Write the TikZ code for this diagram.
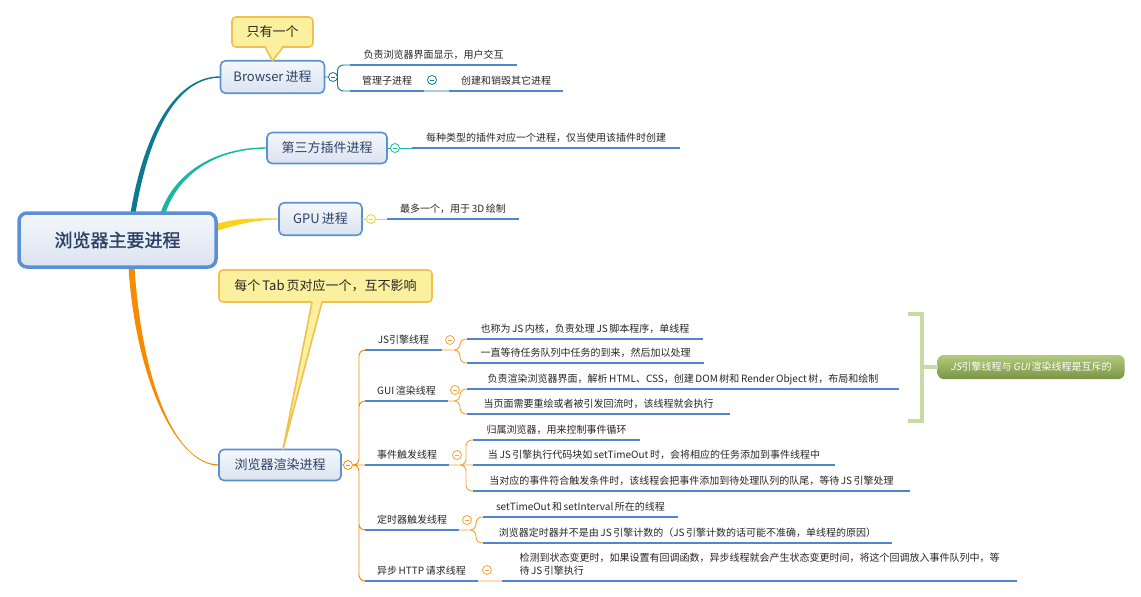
\documentclass[tikz,border=0pt]{standalone}
\usepackage{fontspec}
\setmainfont{Noto Sans CJK SC}[AutoFakeBold=1.5, WordSpace=0.7]
\newfontfamily\slantfont{Noto Sans CJK SC}[FakeSlant=0.2]
\usepackage{tikz}
\usetikzlibrary{backgrounds}
\definecolor{boxline}{HTML}{5B8FD6}
\definecolor{boxtop}{HTML}{F5F8FC}
\definecolor{boxbot}{HTML}{DAE3F0}
\definecolor{boxtext}{HTML}{2C4166}
\definecolor{callfill}{HTML}{FBF09D}
\definecolor{callline}{HTML}{F2C04E}
\definecolor{ubar}{HTML}{4F86D0}
\definecolor{brteal}{HTML}{0E7A8E}
\definecolor{brgreen}{HTML}{17B89E}
\definecolor{bryellow}{HTML}{F8D31A}
\definecolor{brorange}{HTML}{F78B00}
\definecolor{thinorange}{HTML}{F7A23B}
\definecolor{brk}{HTML}{C8DBA2}
\definecolor{sumtop}{HTML}{B3CA7E}
\definecolor{sumbot}{HTML}{7A9444}

\begin{document}
\begin{tikzpicture}[x=1pt, y=-1pt, every node/.style={outer sep=0pt},
	rootbox/.style={draw=boxline, line width=3.5pt, rounded corners=8pt, top color=boxtop, bottom color=boxbot, text=boxtext, font=\fontsize{18}{20}\selectfont\bfseries, minimum width=197pt, minimum height=54pt, inner sep=0pt},
	topic/.style={draw=boxline, line width=1.6pt, rounded corners=5pt, top color=boxtop, bottom color=boxbot, text=boxtext, font=\fontsize{13}{15}\selectfont, minimum height=31pt, inner sep=0pt},
	note/.style={draw=callline, fill=callfill, line width=1.6pt, rounded corners=4pt, text=black!85, font=\fontsize{13}{15}\selectfont, inner sep=0pt},
	leaf/.style={font=\fontsize{10}{12}\selectfont, text=black!85, anchor=south west, inner xsep=0pt, inner ysep=4pt, text height=8pt, text depth=2.2pt},
	fold/.style={circle, draw=#1, fill=white, line width=0.8pt, minimum size=9pt, inner sep=0pt, path picture={\draw[#1, line width=0.8pt] ([xshift=2.3pt]path picture bounding box.west) -- ([xshift=-2.3pt]path picture bounding box.east);}},
	sumbox/.style={rounded corners=6pt, top color=sumtop, bottom color=sumbot, text=white, font=\fontsize{10}{12}\selectfont, minimum width=187pt, minimum height=24pt, inner sep=0pt},
	uline/.style={ubar, line width=2.6pt},
	thin/.style={#1, line width=0.9pt, rounded corners=6pt}]

	\useasboundingbox (0,0) rectangle (1141,597);

	\path (117.5,240) node[rootbox] (root) {浏览器主要进程}
	(272.5,77) node[topic, minimum width=104pt, minimum height=32.5pt] (bro) {Browser 进程}
	(327,148) node[topic, minimum width=120pt] (plug) {第三方插件进程}
	(320.5,219) node[topic, minimum width=83pt, minimum height=32.5pt] (gpu) {GPU 进程}
	(280,465) node[topic, minimum width=122pt] (rend) {浏览器渲染进程};

	\path (272.5,32) node[note, minimum width=81pt, minimum height=30pt] (note1) {只有一个}
	(325.5,286) node[note, minimum width=213pt, minimum height=32pt] (note2) {每个 Tab 页对应一个，互不影响};

	\path (333,77) node[fold=brteal] (fb) {}
	(432,80) node[fold=brteal] (fb2) {}
	(395,148) node[fold=brgreen] (fp) {}
	(371,219) node[fold=bryellow] (fg) {}
	(348,465) node[fold=brorange] (fr) {}
	(450,340) node[fold=thinorange] (fjs) {}
	(455,390) node[fold=thinorange] (fgui) {}
	(457,455) node[fold=thinorange] (fev) {}
	(467,520) node[fold=thinorange] (ftm) {}
	(487,570) node[fold=thinorange] (fht) {};

	\path (350,65) node[leaf, minimum width=167pt] (b1) {负责浏览器界面显示，用户交互}
	(350,91) node[leaf, minimum width=74pt] (b2) {管理子进程}
	(449,91) node[leaf, minimum width=114pt] (b3) {创建和销毁其它进程}
	(412,148) node[leaf, minimum width=268pt] (p1) {每种类型的插件对应一个进程，仅当使用该插件时创建}
	(387,219) node[leaf, minimum width=132pt] (g1) {最多一个，用于 3D 绘制};

	\path (365,350) node[leaf, minimum width=77pt] (js) {JS引擎线程}
	(365,401) node[leaf, minimum width=83pt] (gui) {GUI 渲染线程}
	(365,465) node[leaf, minimum width=84pt] (ev) {事件触发线程}
	(365,530) node[leaf, minimum width=94pt] (tm) {定时器触发线程}
	(365,581) node[leaf, minimum width=113pt] (ht) {异步 HTTP 请求线程};

	\path (467,339) node[leaf, minimum width=236pt] (js1) {也称为 JS 内核，负责处理 JS 脚本程序，单线程}
	(467,363) node[leaf, minimum width=237pt] (js2) {一直等待任务队列中任务的到来，然后加以处理}
	(467,389) node[leaf, minimum width=432pt] (gui1) {负责渲染浏览器界面，解析 HTML、CSS，创建 DOM 树和 Render Object 树，布局和绘制}
	(467,414) node[leaf, minimum width=263pt] (gui2) {当页面需要重绘或者被引发回流时，该线程就会执行}
	(473,440) node[leaf, minimum width=167pt] (ev1) {归属浏览器，用来控制事件循环}
	(473,465) node[leaf, minimum width=362pt] (ev2) {当 JS 引擎执行代码块如 setTimeOut 时，会将相应的任务添加到事件线程中}
	(473,491) node[leaf, minimum width=437pt] (ev3) {当对应的事件符合触发条件时，该线程会把事件添加到待处理队列的队尾，等待 JS 引擎处理}
	(483,517) node[leaf, minimum width=195pt] (tm1) {setTimeOut 和 setInterval 所在的线程}
	(483,543) node[leaf, minimum width=409pt] (tm2) {浏览器定时器并不是由 JS 引擎计数的（JS 引擎计数的话可能不准确，单线程的原因）}
	(502,581) node[font=\fontsize{10}{13}\selectfont, text=black!85, anchor=south west, inner xsep=0pt, inner ysep=6pt, align=left, minimum width=515pt] (ht1) {检测到状态变更时，如果设置有回调函数，异步线程就会产生状态变更时间，将这个回调放入事件队列中，等\\待 JS 引擎执行};

	\path (1031,367) node[sumbox] (sum) {{\slantfont JS}引擎线程与 {\slantfont GUI} 渲染线程是互斥的};
	\coordinate (brt) at (908,314);
	\coordinate (brb) at (908,421);
	\coordinate (brm) at (922,367);

	\begin{scope}[on background layer]
		\fill[brteal] ([xshift=13pt]root.north) .. controls +(12,-72) and +(-49,0) .. ([yshift=0.7pt]bro.west) -- ([yshift=-0.7pt]bro.west) .. controls +(-47,0) and +(12,-72) .. ([xshift=18pt]root.north) -- cycle;
		\fill[brgreen] ([xshift=43pt]root.north) .. controls +(14,-41) and +(-51,0) .. ([yshift=0.7pt]plug.west) -- ([yshift=-0.7pt]plug.west) .. controls +(-49,0) and +(14,-41) .. ([xshift=48pt]root.north) -- cycle;
		\fill[bryellow] ([yshift=16pt]root.east) .. controls +(20,-6) and +(-25,0) .. ([yshift=0.6pt]gpu.west) -- ([yshift=-0.6pt]gpu.west) .. controls +(-25,0) and +(20,-6) .. ([yshift=9pt]root.east) -- cycle;
		\fill[brorange] ([xshift=11pt]root.south) .. controls +(7,111) and +(-43,0) .. ([yshift=-0.6pt]rend.west) -- ([yshift=0.6pt]rend.west) .. controls +(-45,0) and +(7,111) .. ([xshift=17pt]root.south) -- cycle;
	\end{scope}

	\fill[callfill] ([shift={(-7.5pt,2pt)}]note1.south) -- (bro.north) -- ([shift={(10.5pt,2pt)}]note1.south) -- cycle;
	\draw[callline, line width=1.6pt, line join=round] ([xshift=-7.5pt]note1.south) -- (bro.north) -- ([xshift=10.5pt]note1.south);
	\fill[callfill] ([shift={(-13.5pt,2pt)}]note2.south) -- ([xshift=3pt]rend.north) -- ([shift={(-3.5pt,2pt)}]note2.south) -- cycle;
	\draw[callline, line width=1.6pt, line join=round] ([xshift=-13.5pt]note2.south) -- ([xshift=3pt]rend.north) -- ([xshift=-3.5pt]note2.south);

	\draw[thin=brteal] (bro.east) -- (fb.west)
	(fb.east) |- (b1.south west)
	(fb.east) |- (b2.south west)
	(b2.south east) -- (b3.south west);
	\draw[thin=brgreen] (plug.east) -- (fp.west)
	(fp.east) -- (p1.south west);
	\draw[thin=bryellow] (gpu.east) -- (fg.west)
	(fg.east) -- (g1.south west);

	\draw[thin=brorange] (rend.east) -- (fr.west)
	(fr.east) -| ([xshift=-6pt]js.south west) -- (js.south west)
	(fr.east) -| ([xshift=-6pt]gui.south west) -- (gui.south west)
	(fr.east) -- (ev.south west)
	(fr.east) -| ([xshift=-6pt]tm.south west) -- (tm.south west)
	(fr.east) -| ([xshift=-6pt]ht.south west) -- (ht.south west);

	\draw[thin=thinorange] (js.south east) -| ([xshift=-7pt]js1.south west) -- (js1.south west)
	(js.south east) -| ([xshift=-7pt]js2.south west) -- (js2.south west)
	(gui.south east) -| ([xshift=-7pt]gui1.south west) -- (gui1.south west)
	(gui.south east) -| ([xshift=-7pt]gui2.south west) -- (gui2.south west)
	(ev.south east) -| ([xshift=-7pt]ev1.south west) -- (ev1.south west)
	(ev.south east) -- (ev2.south west)
	(ev.south east) -| ([xshift=-7pt]ev3.south west) -- (ev3.south west)
	(tm.south east) -| ([xshift=-7pt]tm1.south west) -- (tm1.south west)
	(tm.south east) -| ([xshift=-7pt]tm2.south west) -- (tm2.south west)
	(ht.south east) -- (ht1.south west);

	\draw[uline] (b1.south west) -- (b1.south east)
	(b2.south west) -- (b2.south east)
	(b3.south west) -- (b3.south east)
	(p1.south west) -- (p1.south east)
	(g1.south west) -- (g1.south east)
	(js.south west) -- (js.south east)
	(gui.south west) -- (gui.south east)
	(ev.south west) -- (ev.south east)
	(tm.south west) -- (tm.south east)
	(ht.south west) -- (ht.south east)
	(js1.south west) -- (js1.south east)
	(js2.south west) -- (js2.south east)
	(gui1.south west) -- (gui1.south east)
	(gui2.south west) -- (gui2.south east)
	(ev1.south west) -- (ev1.south east)
	(ev2.south west) -- (ev2.south east)
	(ev3.south west) -- (ev3.south east)
	(tm1.south west) -- (tm1.south east)
	(tm2.south west) -- (tm2.south east)
	(ht1.south west) -- (ht1.south east);

	\draw[brk, line width=4pt] (brt) -| (brm) |- (brb)
	(brm) -- (sum.west);

\end{tikzpicture}
\end{document}
